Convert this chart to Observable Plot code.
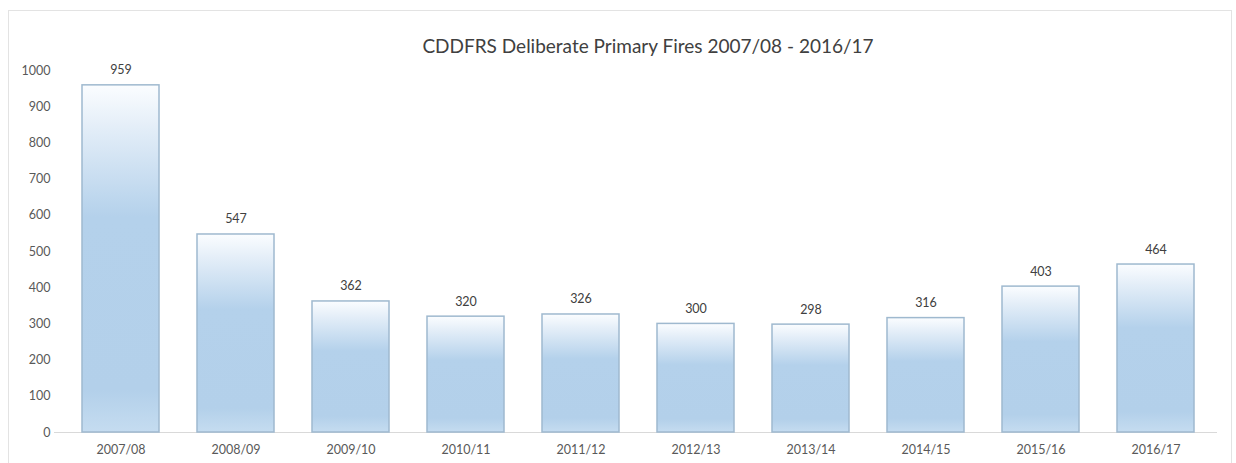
<!DOCTYPE html>
<html>
<head>
<meta charset="utf-8">
<script src="https://cdn.jsdelivr.net/npm/d3@7"></script>
<script src="https://cdn.jsdelivr.net/npm/@observablehq/plot@0.6"></script>
<style>
  html, body { margin: 0; padding: 0; background: #fff; }
  #wrap { position: relative; width: 1236px; height: 463px; overflow: hidden; font-family: Lato, "Open Sans", sans-serif; }
  #frame { position: absolute; left: 8px; top: 10px; width: 1224px; height: 470px; border: 1px solid #e3e3e3; box-sizing: border-box; }
  #title { position: absolute; left: 0; width: 1296px; top: 34px; text-align: center; font-size: 19px; color: #404040; }
  #chart { position: absolute; left: 0; top: 0; }
</style>
</head>
<body>
<div id="wrap">
  <div id="frame"></div>
  <div id="chart"></div>
  <div id="title">CDDFRS Deliberate Primary Fires 2007/08 - 2016/17</div>
</div>
<script>
const years = ["2007/08","2008/09","2009/10","2010/11","2011/12","2012/13","2013/14","2014/15","2015/16","2016/17"];
const fires = [959, 547, 362, 320, 326, 300, 298, 316, 403, 464];
const yTicks = [0,100,200,300,400,500,600,700,800,900,1000];

const data = years.map((y, i) => ({year: y, value: fires[i]}));

const plot = Plot.plot({
  width: 1236,
  height: 463,
  marginLeft: 60,
  marginRight: 19,
  marginTop: 70,
  marginBottom: 31,
  style: {fontFamily: "Lato, 'Open Sans', sans-serif", fontSize: "12.5px", color: "#595959", background: "transparent"},
  x: {domain: years, paddingInner: 0.33, paddingOuter: 0.165, label: null, tickSize: 0, tickPadding: 13},
  y: {domain: [0, 1000], ticks: yTicks, tickFormat: d3.format("d"), label: null, tickSize: 0, tickPadding: 10},
  marks: [
    Plot.ruleY([0], {stroke: "#d9d9d9", insetLeft: -6}),
    Plot.barY(data, {x: "year", y: "value", fill: "url(#barGrad)", stroke: "#9fb9cf", strokeWidth: 1.5}),
    Plot.text(data, {x: "year", y: "value", text: d => String(d.value), dy: -15, fill: "#404040", fontSize: 12.5})
  ]
});

const ns = "http://www.w3.org/2000/svg";
const defs = document.createElementNS(ns, "defs");
const grad = document.createElementNS(ns, "linearGradient");
grad.setAttribute("id", "barGrad");
grad.setAttribute("x1", "0"); grad.setAttribute("y1", "0");
grad.setAttribute("x2", "0"); grad.setAttribute("y2", "1");
[["0%", "#fbfdff"], ["12%", "#e4eef8"], ["38%", "#b4d1eb"], ["88%", "#b3d0ea"], ["100%", "#c5dcf0"]].forEach(([o, c]) => {
  const s = document.createElementNS(ns, "stop");
  s.setAttribute("offset", o);
  s.setAttribute("stop-color", c);
  grad.appendChild(s);
});
defs.appendChild(grad);
plot.insertBefore(defs, plot.firstChild);

document.getElementById("chart").appendChild(plot);
</script>
</body>
</html>
